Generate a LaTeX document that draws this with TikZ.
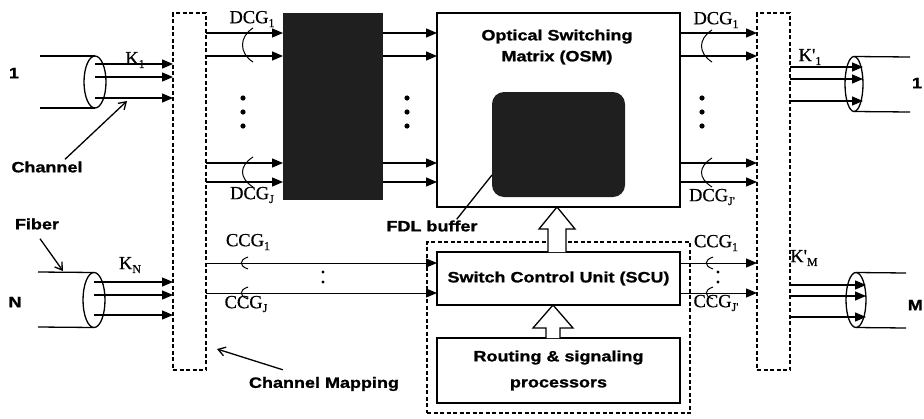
\documentclass[tikz,border=0pt]{standalone}
\usepackage{fontspec}
\setmainfont{Liberation Serif}
\setsansfont{Liberation Sans}[FakeStretch=1.2,BoldFeatures={FakeBold=1.2}]
\newfontfamily\glabfont{Liberation Serif}[FakeBold=0.6]
\newcommand{\gsub}[1]{\raisebox{-0.45ex}{\fontsize{12}{12}\selectfont #1}}
\usetikzlibrary{arrows.meta,shapes.geometric,calc}
\begin{document}
\begin{tikzpicture}[x=1pt,y=-1pt,
  lw/.style={line width=1.3pt},
  chan/.style={line width=1.3pt,-{Triangle[length=11pt,width=9pt]}},
  ctl/.style={line width=1pt,-{Triangle[length=11pt,width=9pt]}},
  dbox/.style={draw,line width=1.1pt,dash pattern=on 4pt off 2.5pt,inner sep=0,outer sep=0,anchor=north west},
  sbox/.style={draw,line width=1.3pt,inner sep=0,outer sep=0,anchor=north west,align=center,
     font=\sffamily\bfseries\fontsize{15}{26}\selectfont},
  dark/.style={fill=black!88,inner sep=0,outer sep=0,anchor=north west},
  slab/.style={font=\sffamily\bfseries\fontsize{15}{21}\selectfont,align=center,inner sep=1pt},
  glab/.style={font=\glabfont\fontsize{18.5}{20}\selectfont,inner sep=0},
  fiber/.style={draw,ellipse,line width=1.3pt,inner sep=0,outer sep=0},
  pointer/.style={line width=1.3pt,-{Straight Barb[length=7pt,width=9pt]}},
  grpmark/.style={line width=1pt},
  blockarrow/.style={draw,line width=1.3pt,fill=white}
]
\useasboundingbox (0,0) rectangle (924,418);

% boxes
\node[dbox,minimum width=33pt,minimum height=357pt] (mapL) at (173,13) {};
\node[dark,minimum width=100pt,minimum height=187pt] (grp) at (283,13) {};
\node[sbox,minimum width=243pt,minimum height=194pt] (osm) at (437,13) {};
\node[dark,rounded corners=12pt,minimum width=133pt,minimum height=105pt] (fdl) at (492,92) {};
\node[dbox,minimum width=33pt,minimum height=357pt] (mapR) at (757,13) {};
\node[dbox,minimum width=263pt,minimum height=171pt] (ctrl) at (427,242) {};
\node[sbox,fill=white,minimum width=243pt,minimum height=53pt] (scu) at (437,252) {Switch Control Unit (SCU)};
\node[sbox,fill=white,minimum width=243pt,minimum height=65pt] (rout) at (437,338) {Routing \& signaling\\processors};

% fibers
\node[fiber,minimum width=22pt,minimum height=52pt] (fib1) at (95,82) {};
\node[fiber,minimum width=22pt,minimum height=55pt] (fibN) at (94,300) {};
\node[fiber,minimum width=18pt,minimum height=55pt] (fo1) at (854,84) {};
\node[fiber,minimum width=20pt,minimum height=55pt] (foM) at (856,300) {};
\draw[lw] (40,56) -- (fib1.north);
\draw[lw] (40,108) -- (fib1.south);
\draw[lw] (38,272) -- (fibN.north);
\draw[lw] (38,327) -- (fibN.south);
\draw[lw] (fo1.north) -- (910,57);
\draw[lw] (fo1.south) -- (910,112);
\draw[lw] (foM.north) -- (906,273);
\draw[lw] (foM.south) -- (906,328);

% channel arrows
\foreach \y in {64,77,98} \draw[chan] (fib1.center |- 0,\y) -- (mapL.west |- 0,\y);
\foreach \y in {282,295,315} \draw[chan] (fibN.center |- 0,\y) -- (mapL.west |- 0,\y);
\foreach \y in {33,56,163,182} {
  \draw[chan] (mapL.east |- 0,\y) -- (grp.west |- 0,\y);
  \draw[chan] (grp.east |- 0,\y) -- (osm.west |- 0,\y);
  \draw[chan] (osm.east |- 0,\y) -- (mapR.west |- 0,\y);
}
\foreach \y in {67,79,101} \draw[chan] (mapR.east |- 0,\y) -- (fo1.east |- 0,\y);
\foreach \y in {285,296,317} \draw[chan] (mapR.east |- 0,\y) -- (foM.east |- 0,\y);
\foreach \y in {263,293} {
  \draw[ctl] (mapL.east |- 0,\y) -- (scu.west |- 0,\y);
  \draw[ctl] (scu.east |- 0,\y) -- (mapR.west |- 0,\y);
}

% group marks
\foreach \x/\ya/\yb in {253/28/62, 253/157/187, 712/30/62, 712/158/187}
  \draw[grpmark] (\x,\ya) .. controls (\x-14,\ya+9) and (\x-14,\yb-9) .. (\x,\yb);
\foreach \x/\y in {248/263, 248/293, 713/263, 713/293}
  \draw[grpmark] (\x,\y-6) .. controls (\x-9,\y-3) and (\x-9,\y+3) .. (\x,\y+6);

% dots
\foreach \x in {243,407,702} \foreach \y in {98,112,126} \fill (\x,\y) circle (2.6pt);
\foreach \x in {323,718} \foreach \y in {272,282} \fill (\x,\y) circle (1.6pt);

% block arrows
\draw[blockarrow] (548,252) -- (548,229) -- (539,229) -- (557,207) -- (575,229) -- (566,229) -- (566,252);
\draw[blockarrow] (546,338) -- (546,328) -- (533,328) -- (553,305) -- (573,328) -- (560,328) -- (560,338);

% labels
\node[slab] (l1) at (14,73) {1};
\node[slab] (lN) at (15,302) {N};
\node[slab] (chl) at (47,167) {Channel};
\node[slab] (fbl) at (37,224) {Fiber};
\node[slab] (cml) at (324,384) {Channel Mapping};
\node[slab] (fdll) at (432,226) {FDL buffer};
\node[slab] (osmt) at (557,47) {Optical Switching\\Matrix (OSM)};
\node[slab] (r1) at (917,83) {1};
\node[slab,anchor=east] (rM) at (924,305) {M};

\node[glab] (k1) at (135,60) {K\gsub{1}};
\node[glab] (kN) at (130,265) {K\gsub{N}};
\node[glab] (dcg1l) at (252,19) {DCG\gsub{1}};
\node[glab] (dcgjl) at (252,195) {DCG\gsub{J}};
\node[glab] (dcg1r) at (716,20) {DCG\gsub{1}};
\node[glab] (dcgjr) at (712,197) {DCG\gsub{J'}};
\node[glab] (ccg1l) at (248,242) {CCG\gsub{1}};
\node[glab] (ccgjl) at (246,304) {CCG\gsub{J}};
\node[glab] (ccg1r) at (716,243) {CCG\gsub{1}};
\node[glab] (ccgjr) at (716,303) {CCG\gsub{J'}};
\node[glab] (kp1) at (810,57) {K'\gsub{1}};
\node[glab] (kpM) at (804,258) {K'\gsub{M}};

% pointers
\draw[pointer] ($(chl.north)+(18,-1)$) -- (127,101);
\draw[pointer] ($(fbl.south)+(3,8)$) -- (63,271);
\draw[pointer] (cml.north west) ++(35,-6) -- (217,349);
\draw[lw] ($(fdll.north east)+(-22,0)$) -- (fdl.west |- 0,175);
\end{tikzpicture}
\end{document}
